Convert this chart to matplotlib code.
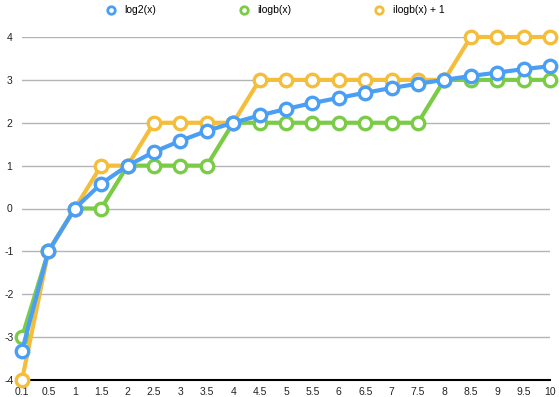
import matplotlib
matplotlib.use("Agg")
import matplotlib.pyplot as plt

plt.rcParams['font.family'] = ['Liberation Sans', 'DejaVu Sans']
plt.rcParams['axes.unicode_minus'] = False

x_labels = ['0.1', '0.5', '1', '1.5', '2', '2.5', '3', '3.5', '4', '4.5', '5',
            '5.5', '6', '6.5', '7', '7.5', '8', '8.5', '9', '9.5', '10']
log2_vals = [-3.32, -1, 0, 0.58, 1, 1.32, 1.58, 1.81, 2, 2.17, 2.32,
             2.46, 2.58, 2.70, 2.81, 2.91, 3, 3.09, 3.17, 3.25, 3.32]
ilogb_vals = [-3, -1, 0, 0, 1, 1, 1, 1, 2, 2, 2,
              2, 2, 2, 2, 2, 3, 3, 3, 3, 3]
ilogb_p1_vals = [-4, -1, 0, 1, 1, 2, 2, 2, 2, 3, 3,
                 3, 3, 3, 3, 3, 3, 4, 4, 4, 4]

blue = '#4a9ff5'
green = '#7acc46'
orange = '#f4bd3a'

fig = plt.figure(figsize=(5.59, 3.97), dpi=100)
ax = fig.add_axes([22/559, 17/397, 528/559, 343/397])

xs = list(range(len(x_labels)))
style = dict(linewidth=3, marker='o', markersize=9, markerfacecolor='white',
             markeredgewidth=2.4, clip_on=False)
l1, = ax.plot(xs, log2_vals, color=blue, label='log2(x)', zorder=5, **style)
l2, = ax.plot(xs, ilogb_vals, color=green, label='ilogb(x)', zorder=3, **style)
l3, = ax.plot(xs, ilogb_p1_vals, color=orange, label='ilogb(x) + 1', zorder=4, **style)

ax.set_xlim(0, len(x_labels) - 1)
ax.set_ylim(-4, 4)
ax.set_xticks(xs)
ax.set_xticklabels(x_labels)
ax.set_yticks(range(-4, 5))
ax.tick_params(length=0, labelsize=7.5, colors='#222222')
ax.tick_params(axis='y', pad=9)
ax.tick_params(axis='x', pad=5)
for lbl in ax.get_yticklabels():
    lbl.set_horizontalalignment('center')

ax.grid(axis='y', color='#b4b4b4', linewidth=1)
ax.set_axisbelow(True)
for s in ['top', 'right', 'left']:
    ax.spines[s].set_visible(False)
ax.spines['bottom'].set_linewidth(1.5)
ax.spines['bottom'].set_color('black')
ax.spines['bottom'].set_zorder(2)

leg = fig.legend(handles=[l1, l2, l3], loc='upper center', ncol=3, frameon=False,
                 bbox_to_anchor=(0.493, 1.01), fontsize=7.5, columnspacing=8.0,
                 handlelength=0.8, handletextpad=0.9, markerscale=0.6)
for h in leg.legend_handles:
    h.set_linestyle('none')
    h.set_markeredgewidth(2)

fig.savefig('out.png', dpi=100)
